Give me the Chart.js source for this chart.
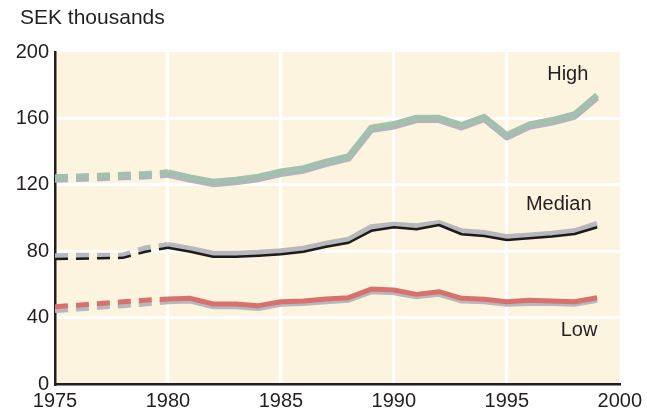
<!DOCTYPE html>
<html>
<head>
<meta charset="utf-8">
<script src="https://cdn.jsdelivr.net/npm/chart.js@4"></script>
<style>
  html, body { margin: 0; padding: 0; background: #fff; }
  #wrap { position: relative; width: 647px; height: 411px; }
  #title { position: absolute; left: 20px; top: 5px; font: 21px "Liberation Sans", Arial, sans-serif; color: #231f20; }
</style>
</head>
<body>
<div id="wrap">
  <div id="title">SEK thousands</div>
  <canvas id="chart" width="647" height="411"></canvas>
</div>
<script>
// Années 1975-1999
const years = [1975, 1976, 1977, 1978, 1979, 1980, 1981, 1982, 1983, 1984, 1985, 1986,
               1987, 1988, 1989, 1990, 1991, 1992, 1993, 1994, 1995, 1996, 1997, 1998, 1999];

// Revenu élevé (vert) et sa variante grise
const highMain = [124.5, 125, 125.5, 126, 126.5, 127.5, 124.5, 121.9, 123, 124.9, 128, 130,
                  134, 137.3, 154.4, 156.6, 160.4, 160.4, 156, 161, 150, 156.4, 159, 162.5, 174];
const highAlt  = [123, 123.5, 124, 124.5, 125, 126, 123, 120.4, 121.5, 123.4, 126.5, 128.5,
                  132.5, 135.8, 153, 155.1, 159, 159, 154.5, 159.5, 148.5, 155, 157.5, 161, 172.5];

// Médiane (noir) et sa variante grise
const medianMain = [75.3, 75.5, 75.8, 76, 79.7, 82.1, 79.7, 76.7, 76.7, 77.3, 78.1, 79.7,
                    82.7, 85.1, 92.3, 94.4, 93.2, 95.8, 90.2, 89.2, 86.7, 87.8, 88.8, 90.4, 94.4];
const medianAlt  = [77, 77.2, 77.3, 77.3, 81.7, 83.7, 81.3, 78.5, 78.5, 79, 80, 81.5,
                    84.5, 87, 94.5, 96, 95, 97, 92, 91, 88.5, 89.5, 90.5, 92, 96.5];

// Revenu faible (rouge) et sa variante grise
const lowMain = [46.6, 47.5, 48.5, 49.5, 50.5, 51.2, 51.6, 48.2, 48.2, 47.2, 49.6, 50,
                 51.2, 52, 57.2, 56.6, 54, 55.6, 51.6, 51, 49.6, 50.4, 50, 49.6, 52];
const lowAlt  = [44.2, 45.2, 46.2, 47.2, 48.2, 49.5, 50, 46.5, 46.5, 45.5, 48, 48.5,
                 49.5, 50.5, 55.5, 55, 52.5, 54, 50, 49.5, 48, 48.5, 48.5, 48, 50.5];

// Étiquettes des séries (texte, année, valeur)
const seriesLabels = ['High', 'Median', 'Low'];
const labelYears = [1997.7, 1997.3, 1998.2];
const labelValues = [183, 105, 29];

const xTicks = [1975, 1980, 1985, 1990, 1995, 2000];
const yTicks = [0, 40, 80, 120, 160, 200];

const FONT = '"Liberation Sans", Arial, sans-serif';
const INK = '#231f20';

function toPoints(values) {
    return values.map((v, i) => ({ x: years[i], y: v }));
}

// Pointillés avant 1980
const dashEarly = (pattern) => ({
    borderDash: ctx => ctx.p1.parsed.x <= 1980 ? pattern : undefined
});

function line(values, color, width, order) {
    return {
        data: toPoints(values),
        borderColor: color,
        borderWidth: width,
        pointRadius: 0,
        tension: 0,
        borderCapStyle: 'butt',
        borderJoinStyle: 'round',
        order: order,
        segment: dashEarly([13, 8])
    };
}

// Fond crème de la zone de tracé
const backgroundPlugin = {
    id: 'plotBg',
    beforeDraw(chart) {
        const { ctx, chartArea: a } = chart;
        ctx.save();
        ctx.fillStyle = '#fdf4e0';
        ctx.fillRect(a.left, a.top, a.right - a.left, a.bottom - a.top);
        ctx.restore();
    }
};

// Noms des séries dans le graphique
const labelPlugin = {
    id: 'seriesNames',
    afterDatasetsDraw(chart) {
        const { ctx, scales: { x, y } } = chart;
        ctx.save();
        ctx.font = '20px ' + FONT;
        ctx.fillStyle = INK;
        ctx.textAlign = 'center';
        ctx.textBaseline = 'alphabetic';
        seriesLabels.forEach((t, i) => {
            ctx.fillText(t, x.getPixelForValue(labelYears[i]), y.getPixelForValue(labelValues[i]));
        });
        ctx.restore();
    }
};

new Chart(document.getElementById('chart'), {
    type: 'line',
    data: {
        datasets: [
            line(highMain, '#a3c0ae', 6, 1),
            line(highAlt, '#b3b3bb', 6, 2),
            line(medianMain, '#1c1a1b', 2.5, 1),
            line(medianAlt, '#b7b8bc', 6, 2),
            line(lowMain, '#d8716e', 5, 1),
            line(lowAlt, '#b7b8bc', 5, 2)
        ]
    },
    options: {
        responsive: false,
        animation: false,
        layout: { padding: { top: 52, right: 26, left: 0, bottom: 0 } },
        plugins: { legend: { display: false }, tooltip: { enabled: false } },
        scales: {
            x: {
                type: 'linear',
                min: 1975,
                max: 2000,
                afterBuildTicks: s => { s.ticks = xTicks.map(v => ({ value: v })); },
                afterFit: s => { s.height = 27; },
                grid: {
                    color: c => (c.tick && (c.tick.value === 1975 || c.tick.value === 2000)) ? 'rgba(0,0,0,0)' : '#ffffff',
                    lineWidth: 3,
                    drawTicks: false
                },
                border: { display: true, color: INK, width: 2.5 },
                ticks: {
                    color: INK,
                    font: { family: FONT, size: 20 },
                    padding: 5,
                    maxRotation: 0,
                    callback: v => String(v)
                }
            },
            y: {
                min: 0,
                max: 200,
                afterBuildTicks: s => { s.ticks = yTicks.map(v => ({ value: v })); },
                afterFit: s => { s.width = 55; },
                grid: {
                    color: c => (c.tick && (c.tick.value === 0 || c.tick.value === 200)) ? 'rgba(0,0,0,0)' : '#ffffff',
                    lineWidth: 3,
                    drawTicks: false
                },
                border: { display: true, color: INK, width: 2.5 },
                ticks: { color: INK, font: { family: FONT, size: 20 }, padding: 6 }
            }
        }
    },
    plugins: [backgroundPlugin, labelPlugin]
});
</script>
</body>
</html>
